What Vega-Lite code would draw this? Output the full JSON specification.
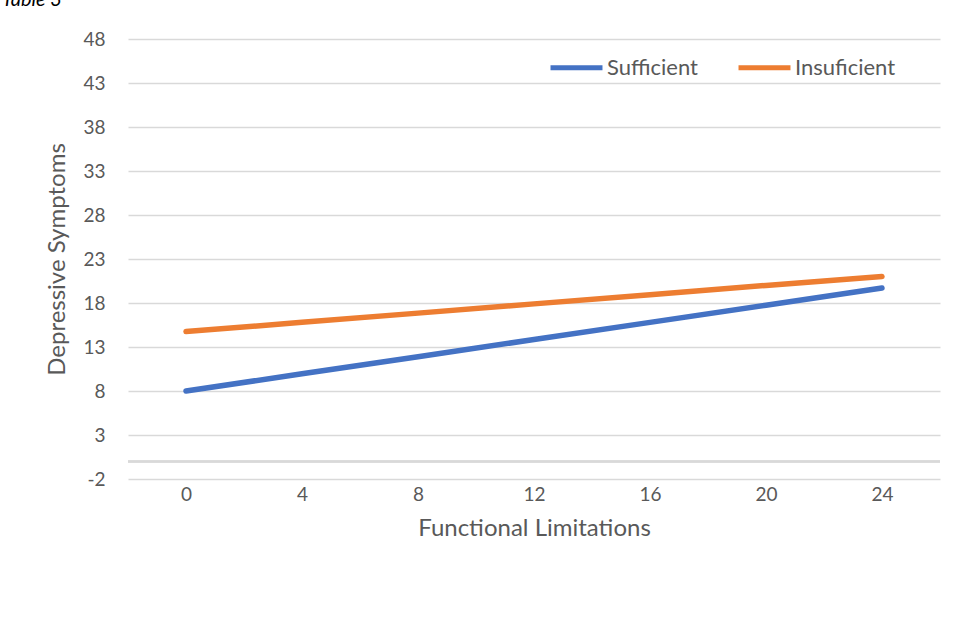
{
  "$schema": "https://vega.github.io/schema/vega-lite/v6.json",
  "width": 812,
  "height": 440,
  "autosize": {"type": "none"},
  "padding": {"left": 128, "top": 39, "right": 15, "bottom": 150},
  "background": "white",
  "config": {
    "font": "Lato",
    "view": {"stroke": null}
  },
  "title": {
    "text": "Table 3",
    "anchor": "start",
    "frame": "group",
    "fontStyle": "italic",
    "fontWeight": "normal",
    "font": "Lato",
    "fontSize": 20,
    "color": "#000000",
    "baseline": "bottom",
    "offset": 0,
    "dx": -126,
    "dy": 0
  },
  "data": {
    "values": [
      {"limitations": "0", "group": "Sufficient", "symptoms": 8.0},
      {"limitations": "4", "group": "Sufficient", "symptoms": 9.95},
      {"limitations": "8", "group": "Sufficient", "symptoms": 11.9},
      {"limitations": "12", "group": "Sufficient", "symptoms": 13.85},
      {"limitations": "16", "group": "Sufficient", "symptoms": 15.8},
      {"limitations": "20", "group": "Sufficient", "symptoms": 17.75},
      {"limitations": "24", "group": "Sufficient", "symptoms": 19.7},
      {"limitations": "0", "group": "Insuficient", "symptoms": 14.75},
      {"limitations": "4", "group": "Insuficient", "symptoms": 15.8},
      {"limitations": "8", "group": "Insuficient", "symptoms": 16.85},
      {"limitations": "12", "group": "Insuficient", "symptoms": 17.9},
      {"limitations": "16", "group": "Insuficient", "symptoms": 18.95},
      {"limitations": "20", "group": "Insuficient", "symptoms": 20.0},
      {"limitations": "24", "group": "Insuficient", "symptoms": 21.0}
    ]
  },
  "layer": [
    {
      "mark": {"type": "rule", "color": "#d9d9d9", "strokeWidth": 1.5},
      "encoding": {
        "y": {"datum": 0, "type": "quantitative", "scale": {"domain": [-2, 48]}}
      }
    },
    {
      "mark": {"type": "line", "strokeWidth": 5.5, "strokeCap": "round", "strokeJoin": "round"},
      "encoding": {
        "x": {
          "field": "limitations",
          "type": "ordinal",
          "sort": ["0", "4", "8", "12", "16", "20", "24"],
          "scale": {"type": "point", "padding": 0.5},
          "axis": {
            "title": "Functional Limitations",
            "titleFont": "Lato",
            "titleFontSize": 24,
            "titleFontWeight": "normal",
            "titleColor": "#595959",
            "titlePadding": 12,
            "labelFont": "Lato",
            "labelFontSize": 19,
            "labelColor": "#595959",
            "labelAngle": 0,
            "labelPadding": 6,
            "ticks": false,
            "domain": false,
            "grid": false
          }
        },
        "y": {
          "field": "symptoms",
          "type": "quantitative",
          "scale": {"domain": [-2, 48], "nice": false, "zero": false},
          "axis": {
            "title": "Depressive Symptoms",
            "titleFont": "Lato",
            "titleFontSize": 24,
            "titleFontWeight": "normal",
            "titleColor": "#595959",
            "titlePadding": 13,
            "values": [-2, 3, 8, 13, 18, 23, 28, 33, 38, 43, 48],
            "labelExpr": "replace(datum.label, '−', '-')",
            "labelFont": "Lato",
            "labelFontSize": 19,
            "labelColor": "#595959",
            "labelPadding": 23,
            "ticks": false,
            "domain": false,
            "grid": true,
            "gridColor": "#d9d9d9",
            "gridWidth": 1.5
          }
        },
        "color": {
          "field": "group",
          "type": "nominal",
          "sort": ["Sufficient", "Insuficient"],
          "scale": {"domain": ["Sufficient", "Insuficient"], "range": ["#4472C4", "#ED7D31"]},
          "legend": {
            "title": null,
            "orient": "none",
            "direction": "horizontal",
            "legendX": 420,
            "legendY": 0,
            "symbolType": "stroke",
            "symbolStrokeWidth": 5,
            "symbolSize": 2700,
            "labelFont": "Lato",
            "labelFontSize": 22,
            "labelColor": "#595959",
            "labelOffset": 2,
            "columnPadding": 30
          }
        }
      }
    }
  ]
}
